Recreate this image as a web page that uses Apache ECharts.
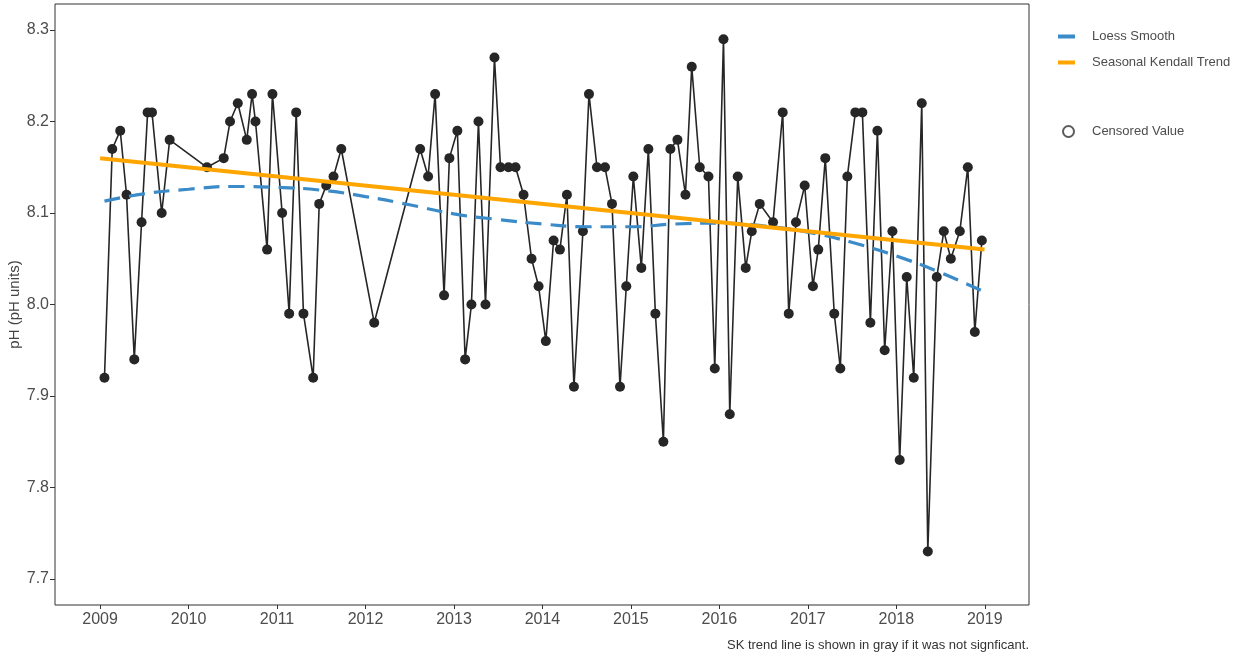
<!DOCTYPE html>
<html>
<head>
<meta charset="utf-8">
<script src="https://cdn.jsdelivr.net/npm/echarts@6/dist/echarts.min.js"></script>
<style>
  html, body { margin: 0; padding: 0; background: #fff; }
  #chart { width: 1243px; height: 655px; }
</style>
</head>
<body>
<div id="chart"></div>
<script>
// Monthly pH samples
const sampleDates = [
  '2009-01-19','2009-02-20','2009-03-25','2009-04-20','2009-05-22','2009-06-21','2009-07-16','2009-08-03','2009-09-12','2009-10-15',
  '2010-03-18','2010-05-26','2010-06-21','2010-07-23','2010-08-29','2010-09-20','2010-10-04','2010-11-21','2010-12-13',
  '2011-01-22','2011-02-20','2011-03-21','2011-04-20','2011-05-30','2011-06-24','2011-07-23','2011-08-22','2011-09-23',
  '2012-02-06','2012-08-14','2012-09-16','2012-10-15','2012-11-21','2012-12-13',
  '2013-01-15','2013-02-16','2013-03-14','2013-04-12','2013-05-11','2013-06-17','2013-07-12','2013-08-14','2013-09-12','2013-10-15','2013-11-17','2013-12-16',
  '2014-01-15','2014-02-16','2014-03-14','2014-04-12','2014-05-11','2014-06-17','2014-07-12','2014-08-14','2014-09-16','2014-10-15','2014-11-17','2014-12-13',
  '2015-01-11','2015-02-13','2015-03-14','2015-04-12','2015-05-15','2015-06-13','2015-07-12','2015-08-14','2015-09-09','2015-10-12','2015-11-17','2015-12-13',
  '2016-01-18','2016-02-13','2016-03-17','2016-04-19','2016-05-14','2016-06-16','2016-08-10','2016-09-19','2016-10-14','2016-11-13','2016-12-19',
  '2017-01-22','2017-02-13','2017-03-14','2017-04-20','2017-05-15','2017-06-13','2017-07-16','2017-08-14','2017-09-16','2017-10-15','2017-11-14','2017-12-16',
  '2018-01-15','2018-02-13','2018-03-14','2018-04-16','2018-05-11','2018-06-17','2018-07-16','2018-08-14','2018-09-20','2018-10-23','2018-11-21','2018-12-20'
];
const phValues = [
  7.92, 8.17, 8.19, 8.12, 7.94, 8.09, 8.21, 8.21, 8.10, 8.18,
  8.15, 8.16, 8.20, 8.22, 8.18, 8.23, 8.20, 8.06, 8.23,
  8.10, 7.99, 8.21, 7.99, 7.92, 8.11, 8.13, 8.14, 8.17,
  7.98, 8.17, 8.14, 8.23, 8.01, 8.16,
  8.19, 7.94, 8.00, 8.20, 8.00, 8.27, 8.15, 8.15, 8.15, 8.12, 8.05, 8.02,
  7.96, 8.07, 8.06, 8.12, 7.91, 8.08, 8.23, 8.15, 8.15, 8.11, 7.91, 8.02,
  8.14, 8.04, 8.17, 7.99, 7.85, 8.17, 8.18, 8.12, 8.26, 8.15, 8.14, 7.93,
  8.29, 7.88, 8.14, 8.04, 8.08, 8.11, 8.09, 8.21, 7.99, 8.09, 8.13,
  8.02, 8.06, 8.16, 7.99, 7.93, 8.14, 8.21, 8.21, 7.98, 8.19, 7.95, 8.08,
  7.83, 8.03, 7.92, 8.22, 7.73, 8.03, 8.08, 8.05, 8.08, 8.15, 7.97, 8.07
];

// Loess smooth of the series
const loessDates = [
  '2009-01-19','2009-07-01','2010-01-01','2010-07-01','2011-01-01','2011-07-01','2012-01-01','2012-07-01',
  '2013-01-01','2013-07-01','2014-01-01','2014-07-01','2015-01-01','2015-07-01','2016-01-01','2016-07-01',
  '2017-01-01','2017-07-01','2018-01-01','2018-07-01','2018-12-20'
];
const loessValues = [
  8.113, 8.121, 8.126, 8.129, 8.128, 8.125, 8.118, 8.109,
  8.099, 8.093, 8.088, 8.085, 8.085, 8.088, 8.089, 8.086,
  8.079, 8.068, 8.053, 8.035, 8.015
];

// Seasonal Kendall trend line end points
const trendDates = ['2009-01-01', '2018-12-31'];
const trendValues = [8.16, 8.06];

const yearTicks = [2009, 2010, 2011, 2012, 2013, 2014, 2015, 2016, 2017, 2018, 2019];
const phTicks = [7.7, 7.8, 7.9, 8.0, 8.1, 8.2, 8.3];

// Convert an ISO date to a decimal year
function toYear(s) {
  const [y, m, d] = s.split('-').map(Number);
  const start = Date.UTC(y, 0, 1);
  const end = Date.UTC(y + 1, 0, 1);
  return y + (Date.UTC(y, m - 1, d) - start) / (end - start);
}
const pair = (dates, vals) => dates.map((d, i) => [toYear(d), vals[i]]);

const textGray = '#4d4d4d';
const font = 'Liberation Sans, Arial, sans-serif';

const chart = echarts.init(document.getElementById('chart'));
chart.setOption({
  animation: false,
  backgroundColor: '#ffffff',
  textStyle: { fontFamily: font },
  grid: {
    left: 55, right: 214, top: 4, bottom: 50,
    outerBoundsMode: 'none', containLabel: false,
    show: true, borderColor: '#333333', borderWidth: 1, backgroundColor: '#ffffff'
  },
  xAxis: {
    type: 'value',
    min: 2008.49, max: 2019.5,
    axisLine: { show: false },
    splitLine: { show: false },
    axisTick: { show: true, length: 4, lineStyle: { color: '#333333' }, customValues: yearTicks },
    axisLabel: { color: textGray, fontSize: 16, margin: 7, fontFamily: font, customValues: yearTicks,
                 formatter: v => String(Math.round(v)) }
  },
  yAxis: {
    type: 'value',
    min: 7.6715, max: 8.3285,
    name: 'pH (pH units)',
    nameLocation: 'middle',
    nameGap: 33,
    nameMoveOverlap: false,
    nameTextStyle: { color: '#444444', fontSize: 15, fontFamily: font },
    axisLine: { show: false },
    splitLine: { show: false },
    axisTick: { show: true, length: 5, lineStyle: { color: '#333333' }, customValues: phTicks },
    axisLabel: { color: textGray, fontSize: 16, margin: 6, fontFamily: font, customValues: phTicks,
                 formatter: v => v.toFixed(1) }
  },
  legend: [
    {
      orient: 'vertical', left: 1058, top: 30, itemGap: 13, padding: 0,
      itemWidth: 17, itemHeight: 4, icon: 'rect',
      textStyle: { color: textGray, fontSize: 13, fontFamily: font, padding: [0, 0, 0, 12] },
      data: [
        { name: 'Loess Smooth', itemStyle: { color: '#3b8bc8' } },
        { name: 'Seasonal Kendall Trend', itemStyle: { color: '#ffa500' } }
      ]
    },
    {
      orient: 'vertical', left: 1062, top: 125, padding: 0,
      itemWidth: 11, itemHeight: 11, icon: 'circle',
      textStyle: { color: textGray, fontSize: 13, fontFamily: font, padding: [0, 0, 0, 13] },
      data: [
        { name: 'Censored Value', itemStyle: { color: '#ffffff', borderColor: '#333333', borderWidth: 2 } }
      ]
    }
  ],
  graphic: [
    {
      type: 'text', right: 214, top: 639,
      style: { text: 'SK trend line is shown in gray if it was not signficant.',
               fill: '#333333', fontSize: 13, fontFamily: font }
    }
  ],
  series: [
    {
      name: 'pH', type: 'line',
      data: pair(sampleDates, phValues),
      symbol: 'circle', symbolSize: 10,
      itemStyle: { color: '#262626' },
      lineStyle: { color: '#262626', width: 1.6 },
      z: 2
    },
    {
      name: 'Loess Smooth', type: 'line',
      data: pair(loessDates, loessValues),
      smooth: true, showSymbol: false,
      itemStyle: { color: '#3b8bc8' },
      lineStyle: { color: '#3b8bc8', width: 3.2, type: [16, 9] },
      z: 3
    },
    {
      name: 'Seasonal Kendall Trend', type: 'line',
      data: pair(trendDates, trendValues),
      showSymbol: false,
      itemStyle: { color: '#ffa500' },
      lineStyle: { color: '#ffa500', width: 4 },
      z: 4
    },
    {
      name: 'Censored Value', type: 'scatter',
      data: [],
      itemStyle: { color: '#ffffff', borderColor: '#333333', borderWidth: 2 }
    }
  ]
});
</script>
</body>
</html>
